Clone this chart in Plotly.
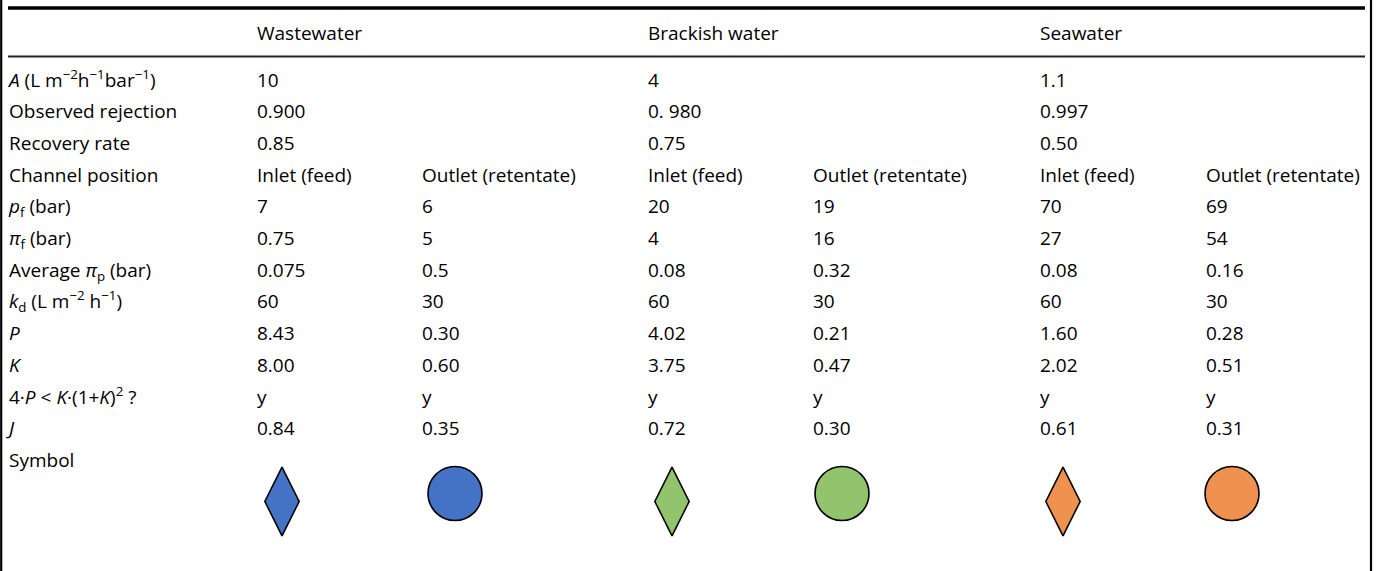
import plotly.graph_objects as go

# ---------------- data ----------------
water_types = ["Wastewater", "Brackish water", "Seawater"]
row_labels = [
    "<i>A</i> (L m<sup>−2</sup>h<sup>−1</sup>bar<sup>−1</sup>)",
    "Observed rejection",
    "Recovery rate",
    "Channel position",
    "<i>p</i><sub>f</sub> (bar)",
    "<i>π</i><sub>f</sub> (bar)",
    "Average <i>π</i><sub>p</sub> (bar)",
    "<i>k</i><sub>d</sub> (L m<sup>−2</sup> h<sup>−1</sup>)",
    "<i>P</i>",
    "<i>K</i>",
    "4·<i>P</i> &lt; <i>K</i>·(1+<i>K</i>)<sup>2</sup> ?",
    "<i>J</i>",
    "Symbol",
]
A_values = ["10", "4", "1.1"]
observed_rejection = ["0.900", "0. 980", "0.997"]
recovery_rate = ["0.85", "0.75", "0.50"]
channel_position = ["Inlet (feed)", "Outlet (retentate)",
                    "Inlet (feed)", "Outlet (retentate)",
                    "Inlet (feed)", "Outlet (retentate)"]
p_f = ["7", "6", "20", "19", "70", "69"]
pi_f = ["0.75", "5", "4", "16", "27", "54"]
pi_p_avg = ["0.075", "0.5", "0.08", "0.32", "0.08", "0.16"]
k_d = ["60", "30", "60", "30", "60", "30"]
P_values = ["8.43", "0.30", "4.02", "0.21", "1.60", "0.28"]
K_values = ["8.00", "0.60", "3.75", "0.47", "2.02", "0.51"]
criterion = ["y", "y", "y", "y", "y", "y"]
J_values = ["0.84", "0.35", "0.72", "0.30", "0.61", "0.31"]

# ---------------- layout / style ----------------
W, H = 1378, 571
FONT = "Open Sans"
FS = 19
label_x = 9
col_x = [257, 422, 648, 813, 1040, 1206]
group_x = [col_x[0], col_x[2], col_x[4]]
header_y = 35
row0_y = 81.8
row_step = 31.7
row_y = [row0_y + i * row_step for i in range(len(row_labels))]

water_colors = ["#4472c4", "#91c46d", "#f0924f"]
symbol_shapes = ["diamond-tall", "circle"]
symbol_x = [282, 455, 672, 842, 1063, 1232]
symbol_y = {"diamond-tall": 501.5, "circle": 493.5}
symbol_size = {"diamond-tall": 49, "circle": 54}

fig = go.Figure()

def text_trace(xs, ys, texts):
    fig.add_trace(go.Scatter(
        x=xs, y=ys, text=texts, mode="text",
        textposition="middle right",
        textfont=dict(family=FONT, size=FS, color="black"),
        hoverinfo="skip", showlegend=False, cliponaxis=False))

# header
text_trace(group_x, [header_y] * 3, water_types)
# row labels
text_trace([label_x] * len(row_labels), row_y, row_labels)
# group-level rows
for i, vals in enumerate([A_values, observed_rejection, recovery_rate]):
    text_trace(group_x, [row_y[i]] * 3, vals)
# column-level rows
col_rows = [channel_position, p_f, pi_f, pi_p_avg, k_d, P_values,
            K_values, criterion, J_values]
for j, vals in enumerate(col_rows):
    text_trace(col_x, [row_y[3 + j]] * 6, vals)

# symbols
for k in range(6):
    shp = symbol_shapes[k % 2]
    fig.add_trace(go.Scatter(
        x=[symbol_x[k]], y=[symbol_y[shp]], mode="markers",
        marker=dict(symbol=shp, size=symbol_size[shp],
                    color=water_colors[k // 2],
                    line=dict(color="black", width=1.6)),
        hoverinfo="skip", showlegend=False, cliponaxis=False))

shapes = [
    dict(type="line", x0=8, x1=1365, y0=8, y1=8, line=dict(color="black", width=3.5)),
    dict(type="line", x0=8, x1=1365, y0=56.5, y1=56.5, line=dict(color="#222", width=1.8)),
    dict(type="line", x0=1.2, x1=1.2, y0=0, y1=H, line=dict(color="black", width=2.2)),
    dict(type="line", x0=1371, x1=1371, y0=0, y1=H, line=dict(color="black", width=2.2)),
]
for s in shapes:
    s.update(xref="x", yref="y", layer="above")

fig.update_layout(
    width=W, height=H, autosize=False,
    margin=dict(l=0, r=0, t=0, b=0, pad=0),
    paper_bgcolor="white", plot_bgcolor="white",
    xaxis=dict(range=[0, W], visible=False, fixedrange=True),
    yaxis=dict(range=[H, 0], visible=False, fixedrange=True),
    shapes=shapes,
)

fig.write_html(
    "out.html",
    config={"displayModeBar": False},
    post_script="document.body.style.margin='0';document.body.style.overflow='hidden';",
)
